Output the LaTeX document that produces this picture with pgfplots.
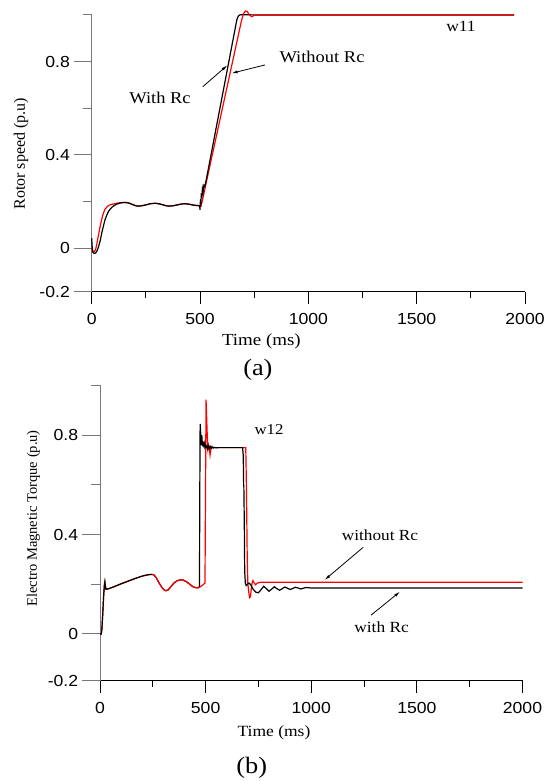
\documentclass[border=0pt]{standalone}
\usepackage{pgfplots}
\pgfplotsset{compat=1.18}
\usetikzlibrary{arrows.meta}
\usepackage{fontspec}
\setmainfont{Liberation Serif}
\newfontfamily\ticksf{Liberation Sans}
\definecolor{axgray}{RGB}{120,120,120}
\pgfplotsset{myax/.style={
  scale only axis, axis x line*=bottom, axis y line*=left,
  xmin=0, xmax=2000,
  xtick={0,500,1000,1500,2000}, xticklabels={0,500,1000,1500,2000},
  minor xtick={250,750,1250,1750},
  minor ytick={0.2,0.6,1.0},
  tick align=outside, major tick length=18pt, minor tick length=9pt,
  x axis line style={black,line width=0.9pt},
  y axis line style={axgray,line width=1pt},
  y tick style={axgray,line width=1pt},
  x tick style={black,line width=0.9pt,/pgfplots/major tick length=12pt,/pgfplots/minor tick length=6pt},
  ticklabel style={font=\ticksf\fontsize{16}{16}\selectfont, xscale=1.1},
  clip=false}}
\begin{document}
\begin{tikzpicture}[x=1pt,y=1pt]
\path[use as bounding box] (0pt,0pt) rectangle (551pt,781pt);
% ---------------- (a) rotor speed ----------------
\begin{axis}[myax, at={(91.7pt,489.3pt)}, anchor=south west,
  width=433.3pt, height=276.7pt, ymin=-0.186, ymax=1.0,
  ytick={-0.186,0,0.4,0.8}, yticklabels={-0.2,0,0.4,0.8}]
% black, settled part (under red)
\addplot[black, line width=1.2pt] coordinates {
(690,1.001) (800,1.0) (1000,1.0) (1500,1.0) (1950,1.0)};
% red: without Rc
\addplot[red, line width=1.2pt] coordinates {
(0,0.0) (6,-0.012) (12,-0.015) (18,-0.005) (24,0.02) (30,0.05) (38,0.09) (45,0.12)
(52,0.145) (60,0.165) (70,0.177) (80,0.185) (100,0.19) (120,0.194) (145,0.196)
(160,0.196) (175,0.193) (190,0.187) (205,0.182) (215,0.181) (230,0.182) (250,0.186)
(270,0.191) (292,0.193) (310,0.191) (330,0.186) (345,0.182) (361,0.181) (380,0.183)
(400,0.187) (415,0.19) (431,0.191) (450,0.189) (470,0.185) (490,0.183) (505,0.18)
(690,0.97) (700,1.005) (710,1.017) (718,1.015) (728,1.0) (738,0.993) (750,0.998)
(765,1.0) (1000,1.0) (1500,1.0) (1950,1.0)};
% black: with Rc
\addplot[black, line width=1.2pt] coordinates {
(0,0.043) (2,0.01) (4,-0.015) (8,-0.02) (14,-0.022) (20,-0.018) (26,-0.008) (32,0.008)
(40,0.035) (46,0.064) (54,0.095) (61,0.121) (70,0.143) (77,0.157) (88,0.171) (100,0.181)
(115,0.189) (130,0.194) (145,0.196) (160,0.196) (175,0.193) (190,0.187) (205,0.182)
(215,0.181) (230,0.182) (250,0.186) (270,0.191) (292,0.193) (310,0.191) (330,0.186)
(345,0.182) (361,0.181) (380,0.183) (400,0.187) (415,0.19) (431,0.191) (450,0.189)
(470,0.185) (490,0.183) (498,0.182) (500,0.165) (502,0.21) (504,0.19) (506,0.235)
(508,0.215) (511,0.255) (514,0.24) (518,0.27) (522,0.265) (530,0.3)
(670,0.98) (676,0.994) (682,1.0) (690,1.001)};
\end{axis}
% ---------------- (b) electromagnetic torque ----------------
\begin{axis}[myax, at={(100pt,100.3pt)}, anchor=south west,
  width=422.5pt, height=295.2pt, ymin=-0.188, ymax=1.0,
  ytick={-0.188,0,0.4,0.8}, yticklabels={-0.2,0,0.4,0.8}]
% black part B (under red)
\addplot[black, line width=1.2pt] coordinates {
(245,0.24) (255,0.238) (265,0.228) (280,0.205) (295,0.185) (305,0.176) (312,0.174)
(322,0.177) (335,0.19) (350,0.205) (365,0.214) (380,0.218) (394,0.217) (410,0.21)
(425,0.2) (440,0.19) (455,0.186) (465,0.186) (471,0.19)};
% red: without Rc
\addplot[red, line width=1.2pt] coordinates {
(0,0) (6,0) (9,0.02) (13,0.08) (17,0.15) (21,0.2) (23,0.21) (25,0.195) (28,0.18)
(40,0.182) (60,0.188) (80,0.195) (100,0.202) (125,0.21) (150,0.218) (175,0.226)
(200,0.233) (225,0.238) (245,0.24) (255,0.238) (265,0.228) (280,0.205) (295,0.185)
(305,0.176) (312,0.174) (322,0.177) (335,0.19) (350,0.205) (365,0.214) (380,0.218)
(394,0.217) (410,0.21) (425,0.2) (440,0.19) (455,0.186) (465,0.186) (470,0.188)
(480,0.193) (490,0.2) (497,0.205) (499,0.5) (502,0.943) (505,0.87) (508,0.79)
(511,0.745) (514,0.76) (517,0.75) (521,0.72) (525,0.745) (530,0.755) (536,0.75)
(690,0.75) (693,0.6) (697,0.3) (700,0.2) (704,0.17) (708,0.146) (712,0.15) (716,0.18)
(720,0.205) (724,0.215) (730,0.205) (736,0.198) (745,0.205) (760,0.208) (1000,0.208)
(1500,0.208) (2000,0.208)};
% black part A
\addplot[black, line width=1.2pt] coordinates {
(0,0) (6,0) (9,0.02) (13,0.08) (17,0.15) (21,0.2) (23,0.21) (25,0.195) (28,0.18)
(40,0.182) (60,0.188) (80,0.195) (100,0.202) (125,0.21) (150,0.218) (175,0.226)
(200,0.233) (225,0.238) (245,0.24)};
% black part C
\addplot[black, line width=1.2pt] coordinates {
(471,0.19) (472,0.5) (474,0.845) (476,0.82) (478,0.78) (480,0.76) (482,0.80) (484,0.77)
(486,0.755) (488,0.775) (490,0.76) (493,0.752) (496,0.768) (499,0.755) (502,0.75)
(506,0.758) (510,0.745) (514,0.756) (518,0.746) (522,0.754) (526,0.747) (530,0.752)
(535,0.748) (540,0.751) (550,0.749) (560,0.75) (675,0.75) (678,0.72) (680,0.6)
(681,0.59) (683,0.45) (685,0.25) (688,0.205) (692,0.195) (698,0.2) (705,0.205)
(712,0.2) (725,0.18) (738,0.168) (750,0.166) (762,0.178) (775,0.192) (788,0.182)
(800,0.172) (812,0.18) (825,0.19) (838,0.182) (850,0.176) (862,0.182) (875,0.189)
(888,0.184) (900,0.179) (912,0.183) (925,0.188) (938,0.185) (950,0.181) (962,0.184)
(975,0.187) (1000,0.185) (1500,0.185) (2000,0.185)};
\end{axis}
% ---------------- texts ----------------
\node[rotate=90, font=\fontsize{16}{16}\selectfont] at (21pt,627.3pt) {Rotor speed (p.u)};
\node[xscale=1.12, font=\fontsize{16.9}{17}\selectfont] at (261.4pt,439.3pt) {Time (ms)};
\node[xscale=1.12, font=\fontsize{23.5}{24}\selectfont] at (257.9pt,411pt) {(a)};
\node[xscale=1.12, font=\fontsize{16.5}{17}\selectfont] at (160pt,682.7pt) {With Rc};
\node[xscale=1.12, font=\fontsize{16.5}{17}\selectfont] at (322pt,723.7pt) {Without Rc};
\node[xscale=1.12, font=\fontsize{15.6}{16}\selectfont] at (461pt,754.3pt) {w11};
\draw[-{Latex[length=6pt,width=3pt]}, line width=0.8pt] (202.8pt,694.3pt) -- (227.4pt,715.7pt);
\draw[-{Latex[length=6pt,width=3pt]}, line width=0.8pt] (264.9pt,716pt) -- (231.6pt,707.7pt);
\node[rotate=90, font=\fontsize{14.5}{15}\selectfont] at (33.3pt,262.7pt) {Electro Magnetic Torque (p.u)};
\node[xscale=1.12, font=\fontsize{15.6}{16}\selectfont] at (274pt,48.3pt) {Time (ms)};
\node[xscale=1.12, font=\fontsize{23.5}{24}\selectfont] at (251.7pt,12.7pt) {(b)};
\node[xscale=1.12, font=\fontsize{15}{15}\selectfont] at (269pt,351pt) {w12};
\node[xscale=1.12, font=\fontsize{15.4}{16}\selectfont] at (380pt,246pt) {without Rc};
\node[xscale=1.12, font=\fontsize{15.5}{16}\selectfont] at (381.6pt,153.3pt) {with Rc};
\draw[-{Latex[length=6pt,width=3pt]}, line width=0.8pt] (363.2pt,233.7pt) -- (324.6pt,201pt);
\draw[-{Latex[length=6pt,width=3pt]}, line width=0.8pt] (371.2pt,166pt) -- (400pt,189.3pt);
\end{tikzpicture}
\end{document}
